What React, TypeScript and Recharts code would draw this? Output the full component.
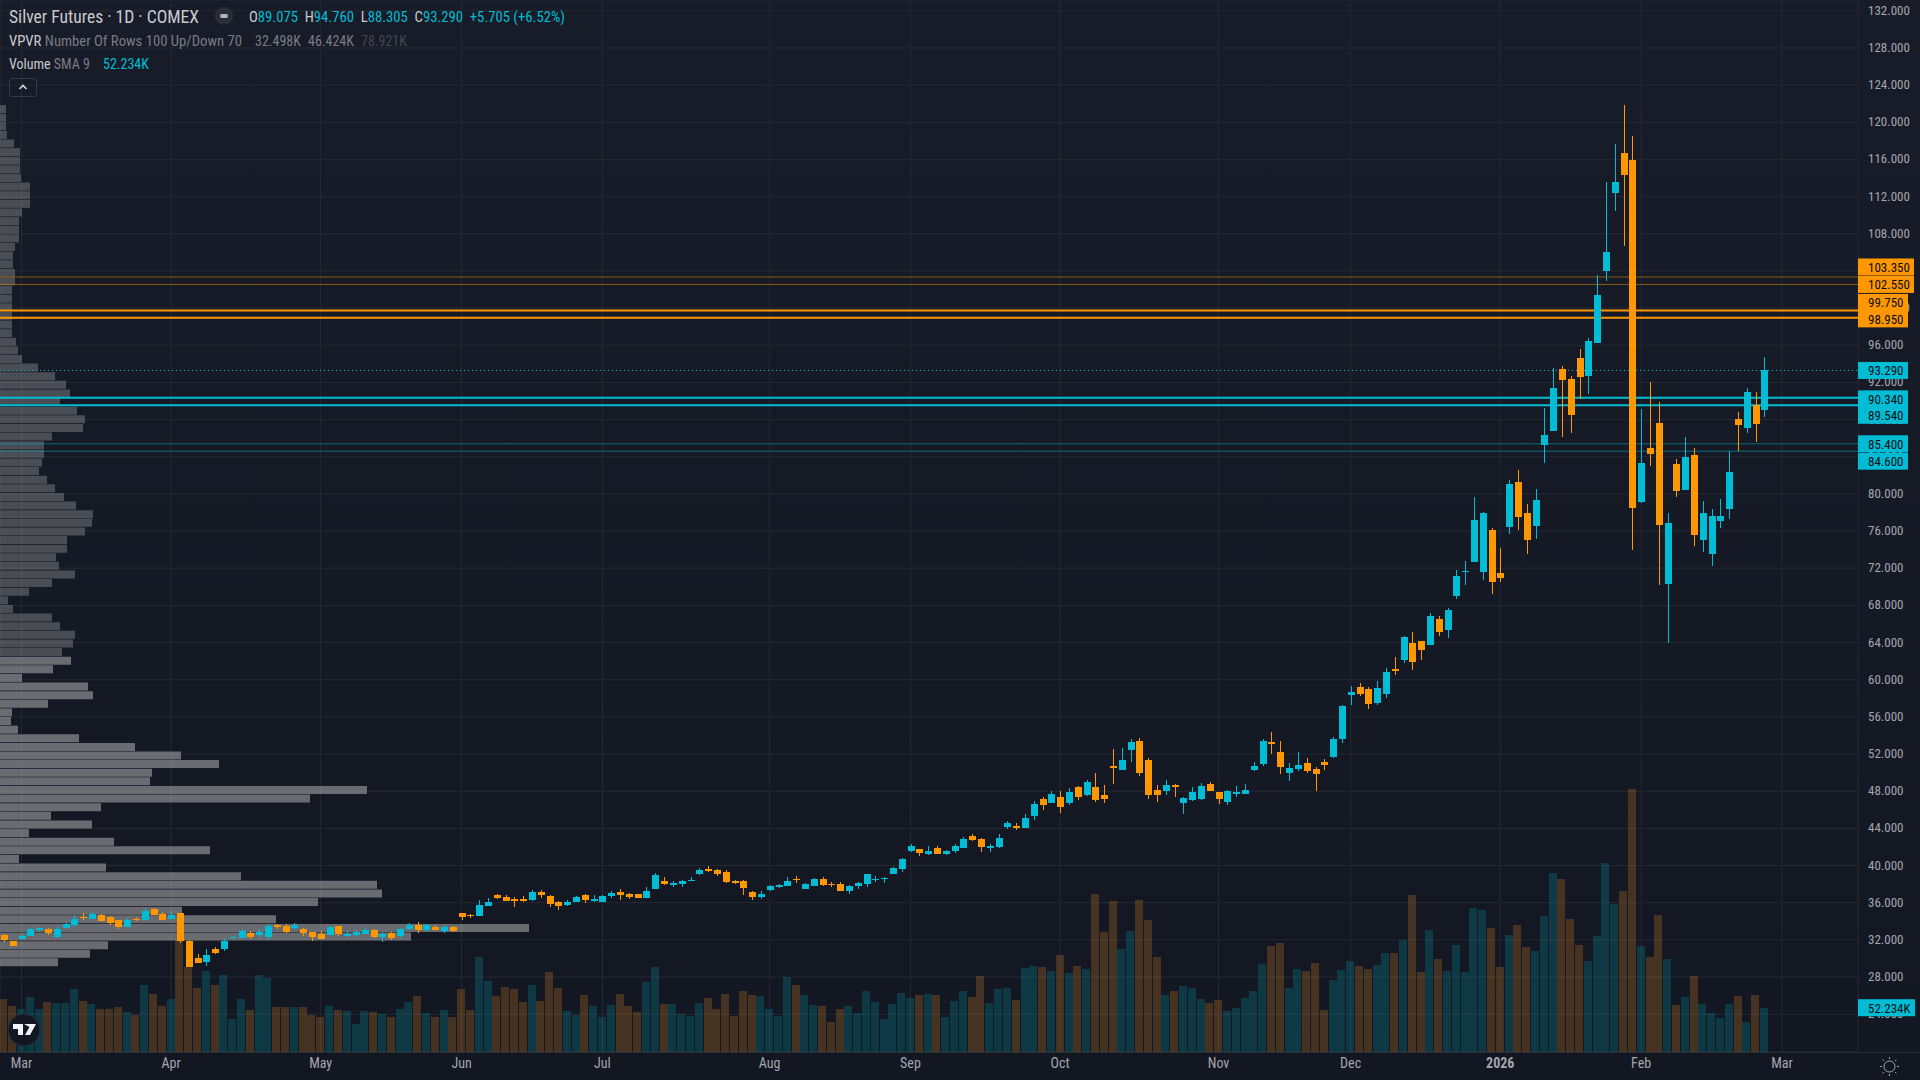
import React from "react";
import { ComposedChart, Bar, Cell, XAxis, YAxis, CartesianGrid, ReferenceLine } from "recharts";

const opens = [
  32.52,31.88,32.09,32.41,33.06,33.17,32.31,33.28,33.60,34.46,
  34.24,34.67,34.46,34.14,33.38,34.24,34.14,35.32,34.78,34.24,
  34.89,31.88,30.05,29.62,31.02,31.02,32.20,32.20,32.74,32.52,
  32.31,33.60,33.49,33.28,33.17,32.84,32.63,32.52,33.49,32.41,
  32.52,32.63,33.06,32.31,32.74,32.41,33.17,33.60,33.06,33.38,
  32.95,33.38,34.89,34.67,34.57,35.64,36.83,36.61,36.40,36.40,
  36.29,37.15,36.72,36.07,35.75,36.07,36.83,36.18,36.07,36.72,
  37.15,36.93,36.93,36.51,37.47,38.34,37.90,38.01,38.34,39.09,
  39.63,39.52,39.30,38.34,38.34,37.15,36.61,37.37,37.69,37.80,
  38.55,37.47,37.80,38.55,38.01,38.01,37.26,37.80,38.01,38.44,
  38.55,39.09,39.63,41.56,41.78,41.24,41.89,41.24,41.56,41.89,
  43.18,42.86,41.89,42.00,44.15,44.26,44.04,45.33,47.16,46.73,
  47.38,46.73,48.45,47.59,48.45,47.59,50.71,50.28,52.43,53.40,
  51.36,48.13,48.02,48.67,46.73,47.05,47.16,48.77,47.91,46.84,
  47.70,47.70,50.28,50.93,53.30,52.22,49.96,50.39,51.03,50.39,
  51.14,51.68,53.62,58.36,59.22,59.00,57.50,58.46,61.15,62.12,
  63.95,64.17,63.74,66.54,65.35,69.01,71.60,72.71,71.59,76.12,
  71.49,76.44,81.28,77.95,76.55,85.27,86.77,93.45,92.37,94.63,
  92.69,96.24,104.00,112.39,116.70,115.94,79.13,84.94,87.63,70.30,
  83.22,80.42,84.19,75.04,73.53,77.08,78.38,88.06,87.09,89.57,89.075,
];

const highs = [
  32.63,31.88,32.63,33.28,33.38,33.28,33.38,33.81,34.67,34.89,
  35.00,34.78,34.57,34.14,34.35,34.46,35.43,35.43,35.00,35.10,
  34.89,31.98,30.48,31.02,31.23,32.20,32.41,33.17,32.95,33.17,
  33.71,33.71,33.71,33.81,33.28,32.84,32.95,33.49,33.49,33.06,
  33.06,33.38,33.17,32.84,32.84,33.28,33.81,33.92,33.71,33.60,
  33.60,33.49,34.89,34.78,36.29,36.50,36.93,36.83,36.61,36.72,
  37.37,37.37,36.83,36.18,36.29,36.72,36.93,36.83,36.83,37.26,
  37.47,37.04,36.93,37.69,39.20,38.76,38.34,38.44,38.76,39.73,
  39.95,39.63,39.52,38.44,38.44,37.26,37.26,37.90,38.01,38.76,
  38.87,38.12,38.66,38.76,38.23,38.23,37.90,38.23,39.09,38.87,
  38.76,39.84,40.81,42.32,41.78,42.10,42.10,41.67,42.32,43.07,
  43.39,42.96,42.32,43.39,44.79,44.58,45.55,46.95,47.38,48.02,
  48.02,48.34,48.56,49.20,49.96,48.67,52.54,52.65,53.62,53.73,
  51.57,48.67,49.20,48.77,47.38,48.45,48.88,48.99,47.91,48.13,
  48.56,48.77,51.14,53.62,54.37,53.40,51.03,52.22,51.57,50.60,
  51.47,53.83,57.28,59.32,59.65,59.22,59.86,61.26,62.45,64.71,
  65.14,64.17,67.18,66.86,67.72,71.81,72.78,79.67,78.05,76.33,
  74.18,81.50,82.57,78.92,80.53,89.25,93.55,93.77,92.69,95.60,
  96.78,103.56,113.57,117.67,121.86,118.53,89.14,92.05,89.89,77.95,
  83.76,86.13,84.94,79.24,78.38,79.45,84.62,88.82,91.40,90.97,94.76,
];

const lows = [
  31.77,31.34,32.09,32.41,32.84,32.52,32.20,33.17,33.38,34.14,
  34.24,34.03,33.60,33.17,33.38,34.03,34.14,34.67,34.14,34.24,
  31.66,29.08,29.51,29.19,30.48,30.80,32.09,32.20,32.09,32.20,
  31.98,33.17,32.74,33.06,32.41,31.88,32.09,32.52,32.41,32.31,
  32.31,32.63,32.20,31.77,31.98,32.20,33.06,32.74,32.95,33.06,
  32.74,32.84,34.14,34.35,34.57,35.64,36.40,36.18,35.53,36.07,
  36.18,36.50,35.53,35.21,35.64,36.07,35.97,36.07,36.07,36.50,
  36.29,36.40,36.50,36.51,37.47,37.90,37.69,37.69,38.34,38.98,
  39.30,38.87,38.12,38.01,36.83,36.29,36.40,37.26,37.58,37.80,
  38.12,37.47,37.80,37.80,37.69,37.26,36.94,37.47,37.69,38.23,
  38.12,39.09,39.30,41.46,41.03,41.13,41.24,41.13,41.35,41.89,
  42.64,41.46,41.46,41.89,43.93,43.82,44.04,44.90,45.97,46.73,
  45.65,46.51,47.05,47.48,46.84,46.73,48.77,50.28,51.14,49.64,
  47.16,46.84,47.59,47.38,45.55,46.95,47.05,48.02,46.62,46.51,
  47.38,47.70,50.17,50.71,52.00,49.85,49.10,50.17,49.96,48.02,
  50.28,51.57,53.19,57.28,58.25,56.85,57.28,58.03,60.51,61.80,
  61.05,62.12,63.74,64.71,64.49,68.69,70.20,72.71,70.73,69.23,
  70.52,75.68,76.12,73.53,75.15,83.33,86.77,86.13,86.56,90.22,
  90.75,96.24,102.92,110.45,106.69,73.96,79.02,83.00,70.20,63.95,
  79.67,80.42,74.39,73.75,72.24,76.33,77.30,84.62,86.56,85.59,88.305,
];

const closes = [
  31.98,31.34,32.41,33.17,33.28,32.74,33.17,33.71,34.24,34.35,
  34.78,34.03,33.81,33.38,34.14,34.14,35.10,34.67,34.14,34.67,
  31.88,29.08,29.51,30.37,30.58,31.88,32.31,32.95,32.31,32.84,
  33.49,33.38,32.84,33.60,32.74,32.31,32.09,33.38,32.63,32.63,
  32.84,33.06,32.31,32.63,32.20,33.17,33.60,33.06,33.60,33.06,
  33.38,32.95,34.46,34.57,35.75,36.07,36.50,36.18,36.18,36.18,
  37.15,36.83,35.86,35.64,36.07,36.61,36.29,36.40,36.72,37.04,
  36.83,36.61,36.50,37.26,38.98,38.01,38.12,38.34,38.44,39.52,
  39.41,39.09,38.23,38.12,37.58,36.61,36.94,37.80,37.90,38.34,
  38.44,38.01,38.55,37.90,37.90,37.26,37.80,38.12,39.09,38.55,
  38.66,39.73,40.70,42.10,41.35,41.56,41.24,41.56,42.10,42.86,
  42.75,42.00,42.10,42.96,44.58,44.04,45.12,46.62,46.51,47.70,
  46.30,47.91,47.38,48.99,47.05,47.16,50.50,51.36,53.30,49.96,
  47.59,47.59,48.67,48.45,47.27,47.91,48.56,48.02,47.16,48.02,
  47.91,48.13,50.71,53.40,53.08,50.60,50.50,50.82,50.17,49.85,
  50.82,53.62,57.17,58.68,58.46,57.39,59.11,60.83,60.94,64.60,
  61.91,63.20,66.86,65.14,67.50,71.16,71.70,77.19,77.95,70.52,
  70.95,81.07,77.52,75.04,79.34,86.34,91.40,92.26,88.49,92.58,
  96.46,101.41,106.04,113.57,114.33,78.48,83.33,84.30,76.65,76.87,
  80.31,83.97,75.58,77.95,77.62,77.62,82.36,87.42,90.97,87.52,93.29,
];

// thousands of contracts
const volumes = [
  62.5,54.3,50.7,64.9,50.7,59.0,57.8,57.8,74.3,60.2,
  56.6,50.7,50.7,53.1,47.2,43.7,79.1,68.4,54.3,62.5,
  132.1,100.7,75.5,95.6,79.1,90.9,38.9,62.5,49.6,90.9,
  87.3,53.1,53.1,53.1,53.1,43.7,41.3,54.3,49.6,48.4,
  33.0,48.4,47.2,44.8,41.3,50.7,59.0,66.1,46.0,41.3,
  49.6,41.3,74.3,49.6,112.1,83.8,66.1,76.7,74.3,59.0,
  79.1,60.2,94.4,75.5,48.4,43.7,67.3,54.3,41.3,55.5,
  68.4,54.3,47.2,
  83.0,100.7,57.0,57.0,45.2,42.9,58.2,64.1,51.1,68.8,
  42.9,72.4,67.6,66.5,51.1,42.9,88.9,79.4,67.6,55.8,
  54.7,35.8,51.1,54.7,46.4,72.4,59.4,39.3,57.0,70.0,
  64.1,67.6,68.8,67.6,41.7,60.6,72.4,65.3,90.1,58.2,
  74.7,75.9,61.7,99.5,101.9,100.7,96.0,114.8,93.6,101.9,
  98.3,186.8,142.0,178.6,121.9,143.2,179.7,156.1,112.5,67.6,
  72.4,78.3,75.9,62.9,58.2,61.7,48.8,52.3,64.1,72.4,
  104.2,125.5,129.0,
  75.9,98.3,96.0,105.4,49.9,85.3,97.1,107.8,101.9,98.3,
  103.0,117.2,117.2,132.5,185.6,94.8,144.3,110.1,96.0,126.6,
  94.8,170.3,167.9,146.7,100.7,138.4,150.2,124.3,119.6,160.9,
  211.6,204.5,157.3,126.6,107.8,137.3,223.4,175.0,190.4,310.7,
  125.5,112.5,162.0,110.1,55.8,65.3,90.1,57.0,46.4,40.5,
  57.0,66.5,35.8,67.6,52.3,
];

// volume profile, top row first (100 rows over the visible high-low range)
const vpvrRows = [
  6,6,6,7,14,20,20,20,21,30,
  30,30,22,19,19,19,15,13,13,15,
  15,12,12,12,12,12,12,16,18,22,
  38,55,66,70,60,77,85,83,52,44,
  44,42,39,47,55,64,76,93,92,85,
  67,67,56,59,75,52,29,8,13,52,
  60,75,73,62,71,53,22,88,93,48,
  12,11,18,79,135,181,219,152,150,367,
  310,101,51,92,29,114,210,19,106,241,
  377,382,318,182,276,529,411,108,90,58,
];
const vpvrHigh = 121.86;
const vpvrLow = 29.08;
const valueAreaStart = 64; // rows from here down are drawn lighter

const levelPrices = [103.35, 102.55, 99.75, 98.95, 93.29, 90.34, 89.54, 85.4, 84.6];
const levelKinds = ["thin", "thin", "thick", "thick", "last", "thick", "thick", "thin", "thin"];
const levelColors = ["#ff9800", "#ff9800", "#ff9800", "#ff9800", "#00bcd4", "#00bcd4", "#00bcd4", "#00bcd4", "#00bcd4"];
const levelShift = [-10, 0, -8, 1, 0, 1, 10, 0, 10];
const levelBoxWidth = [56, 56, 50, 50, 50, 50, 50, 50, 50];

const priceTicks = [24, 28, 32, 36, 40, 44, 48, 52, 56, 60, 64, 68, 72, 76, 80, 84, 88, 92, 96, 100, 104, 108, 112, 116, 120, 124, 128, 132];
const monthBars = [2, 19, 36, 52, 68, 87, 103, 120, 138, 153, 170, 186, 202];
const monthLabels = ["Mar", "Apr", "May", "Jun", "Jul", "Aug", "Sep", "Oct", "Nov", "Dec", "2026", "Feb", "Mar"];

const UP = "#00bcd4";
const DOWN = "#ff9800";
const GRID = "#252933";
const AXIS_TEXT = "#a3a6af";
const FONT = '"Liberation Sans Narrow", "Roboto Condensed", "DejaVu Sans Condensed", Roboto, sans-serif';

const W = 1920;
const H = 1080;
const AXIS_W = 62;
const AXIS_H = 28;
const priceDomain: [number, number] = [19.93, 133.165];
const barDomain: [number, number] = [-0.432, 210.64];
const volumeDomain: [number, number] = [0, 1241];

const candles = opens.map((open, i) => ({
  bar: i,
  open,
  high: highs[i],
  low: lows[i],
  close: closes[i],
  volume: volumes[i],
  range: [lows[i], highs[i]],
}));

const rowStep = (vpvrHigh - vpvrLow) / vpvrRows.length;
const profile = vpvrRows.map((size, k) => ({ price: vpvrHigh - (k + 0.5) * rowStep, size, k }));

function Candle(props: any) {
  const { x, y, width, height, payload } = props;
  const { open, high, low, close } = payload;
  const color = close >= open ? UP : DOWN;
  const cx = Math.round(x + width / 2);
  const perUnit = height / (high - low);
  const top = y + (high - Math.max(open, close)) * perUnit;
  const bodyH = Math.max(Math.abs(open - close) * perUnit, 1);
  return (
    <g shapeRendering="crispEdges">
      <rect x={cx} y={y} width={1} height={height} fill={color} />
      <rect x={cx - 3} y={top} width={7} height={bodyH} fill={color} />
    </g>
  );
}

function VolumeBar(props: any) {
  const { x, y, width, height, payload } = props;
  const fill = payload.close >= payload.open ? "rgba(0,188,212,0.2)" : "rgba(255,152,30,0.22)";
  return <rect x={x} y={y} width={width} height={height} fill={fill} shapeRendering="crispEdges" />;
}

function MonthTick({ x, y, payload }: any) {
  const label = monthLabels[monthBars.indexOf(payload.value)];
  return (
    <text x={x} y={y + 8} textAnchor="middle" fontFamily={FONT} fontSize={14} fontWeight={label === "2026" ? 700 : 400} fill={AXIS_TEXT}>
      {label}
    </text>
  );
}

function PriceTick({ x, y, payload }: any) {
  return (
    <text x={x + 10} y={y + 4} fontFamily={FONT} fontSize={13} fill={AXIS_TEXT}>
      {payload.value.toFixed(3)}
    </text>
  );
}

function AxisBox({ viewBox, text, fill, shift, boxW }: any) {
  const x = viewBox.x + viewBox.width;
  const y = viewBox.y + shift;
  return (
    <g>
      <rect x={x} y={y - 8.5} width={boxW} height={17} fill={fill} />
      <text x={x + 10} y={y + 5} fontFamily={FONT} fontSize={13} fill="#0b0e14">
        {text}
      </text>
    </g>
  );
}

function Header() {
  const row: React.CSSProperties = { position: "absolute", left: 9, whiteSpace: "nowrap", fontFamily: FONT, lineHeight: "16px" };
  const val: React.CSSProperties = { color: UP };
  return (
    <div style={{ position: "absolute", left: 0, top: 0, width: 800, height: 100, fontSize: 14, color: "#c8cad0" }}>
      <div style={{ ...row, top: 9, fontSize: 17.6 }}>Silver Futures · 1D · COMEX</div>
      <div style={{ position: "absolute", left: 215, top: 7, width: 18, height: 18, borderRadius: 9, background: "#2a2e39" }}>
        <div style={{ position: "absolute", left: 5, top: 7, width: 8, height: 4, borderRadius: 2, background: "#b2b5be" }} />
      </div>
      <div style={{ ...row, left: 249, top: 9, fontSize: 14.7 }}>
        O<span style={val}>89.075</span> &nbsp;H<span style={val}>94.760</span> &nbsp;L<span style={val}>88.305</span> &nbsp;C<span style={val}>93.290</span> <span style={val}>&nbsp;+5.705 (+6.52%)</span>
      </div>
      <div style={{ ...row, top: 33, fontSize: 14.7 }}>
        VPVR <span style={{ color: "#787b86" }}>Number Of Rows 100 Up/Down 70</span>
      </div>
      <div style={{ ...row, left: 255, top: 33, color: "#787b86" }}>32.498K</div>
      <div style={{ ...row, left: 308, top: 33, color: "#787b86" }}>46.424K</div>
      <div style={{ ...row, left: 361, top: 33, color: "#434651" }}>78.921K</div>
      <div style={{ ...row, top: 56 }}>
        Volume <span style={{ color: "#787b86" }}>SMA 9</span>
      </div>
      <div style={{ ...row, left: 103, top: 56, color: UP }}>52.234K</div>
      <div style={{ position: "absolute", left: 9, top: 78, width: 28, height: 19, boxSizing: "border-box", border: "1px solid #363a45", borderRadius: 3 }}>
        <svg width={26} height={17} style={{ display: "block" }}>
          <path d="M9.5 10 L13 6.5 L16.5 10" stroke="#d1d4dc" strokeWidth={1.6} fill="none" />
        </svg>
      </div>
    </div>
  );
}

function Badges() {
  return (
    <svg width={W} height={H} style={{ position: "absolute", left: 0, top: 0, pointerEvents: "none" }}>
      <circle cx={24} cy={1030} r={16} fill="#131722" stroke="#2a2e39" strokeWidth={1} />
      <path d="M13 1024 h10 v11 h-5 v-6 h-5 z M24 1024 h12 l-6 11 h-5 l4.5 -8 z" fill="#f0f3fa" />
      <g stroke={AXIS_TEXT} strokeWidth={1} fill="none">
        <circle cx={1889.5} cy={1066.5} r={5.5} />
        <path d="M1889.5 1059 v-2 M1889.5 1074 v2 M1882 1066.5 h-2 M1897 1066.5 h2 M1884 1061 l-1.5 -1.5 M1895 1061 l1.5 -1.5 M1884 1072 l-1.5 1.5 M1895 1072 l1.5 1.5" />
      </g>
    </svg>
  );
}

const layer: React.CSSProperties = { position: "absolute", left: 0, top: 0 };

export default function App() {
  return (
    <div style={{ position: "absolute", left: 0, top: 0, width: W, height: H, overflow: "hidden", background: "linear-gradient(180deg, #181c28 0%, #131722 100%)" }}>
      <div style={{ position: "absolute", left: 0, top: 1052, width: W, height: 1, background: "#2a2e39" }} />

      {/* grid, axes and volume */}
      <div style={layer}>
        <ComposedChart width={W} height={H} data={candles} margin={{ top: 0, right: 0, bottom: 0, left: 0 }} barCategoryGap={0}>
          <CartesianGrid stroke={GRID} strokeWidth={1} yAxisId="price" />
          <XAxis
            dataKey="bar"
            type="number"
            domain={barDomain}
            ticks={monthBars}
            interval={0}
            allowDataOverflow
            height={AXIS_H}
            tickLine={false}
            axisLine={false}
            tick={<MonthTick />}
          />
          <YAxis
            yAxisId="price"
            orientation="right"
            type="number"
            domain={priceDomain}
            ticks={priceTicks}
            interval={0}
            allowDataOverflow
            width={AXIS_W}
            tickLine={false}
            axisLine={false}
            tickSize={0}
            tickMargin={0}
            tick={<PriceTick />}
          />
          <YAxis yAxisId="vol" hide type="number" domain={volumeDomain} allowDataOverflow />
          <Bar yAxisId="vol" dataKey="volume" barSize={8} shape={<VolumeBar />} isAnimationActive={false} />
        </ComposedChart>
      </div>

      {/* volume profile, horizontal levels and their axis labels */}
      <div style={layer}>
        <ComposedChart
          layout="vertical"
          width={W}
          height={H}
          data={profile}
          margin={{ top: 0, right: AXIS_W, bottom: AXIS_H, left: 0 }}
          style={{ overflow: "visible" }}
        >
          <XAxis type="number" hide domain={[0, W - AXIS_W]} allowDataOverflow />
          <YAxis yAxisId="price" type="number" dataKey="price" hide reversed domain={priceDomain} allowDataOverflow />
          <YAxis yAxisId="vol" type="number" dataKey="size" hide reversed domain={volumeDomain} allowDataOverflow />
          <Bar yAxisId="price" dataKey="size" barSize={8} isAnimationActive={false}>
            {profile.map((r) => (
              <Cell key={r.k} fill="#b0b0b0" fillOpacity={r.k >= valueAreaStart ? 0.55 : 0.34} />
            ))}
          </Bar>
          {levelPrices.map((p, i) => (
            <ReferenceLine
              key={p}
              yAxisId="price"
              y={p}
              stroke={levelColors[i]}
              strokeOpacity={levelKinds[i] === "thin" ? 0.5 : 1}
              strokeWidth={levelKinds[i] === "thick" ? 2 : 1}
              strokeDasharray={levelKinds[i] === "last" ? "1 3" : undefined}
              ifOverflow="visible"
              label={(lp: any) => <AxisBox viewBox={lp.viewBox} text={p.toFixed(3)} fill={levelColors[i]} shift={levelShift[i]} boxW={levelBoxWidth[i]} />}
            />
          ))}
          <ReferenceLine
            yAxisId="vol"
            y={52.234}
            stroke="none"
            ifOverflow="visible"
            label={(lp: any) => <AxisBox viewBox={lp.viewBox} text="52.234K" fill={UP} shift={0} boxW={57} />}
          />
        </ComposedChart>
      </div>

      {/* candles on top */}
      <div style={layer}>
        <ComposedChart width={W} height={H} data={candles} margin={{ top: 0, right: AXIS_W, bottom: AXIS_H, left: 0 }}>
          <XAxis dataKey="bar" type="number" hide domain={barDomain} allowDataOverflow />
          <YAxis type="number" hide domain={priceDomain} allowDataOverflow />
          <Bar dataKey="range" barSize={7} shape={<Candle />} isAnimationActive={false} />
        </ComposedChart>
      </div>

      <Header />
      <Badges />
    </div>
  );
}
